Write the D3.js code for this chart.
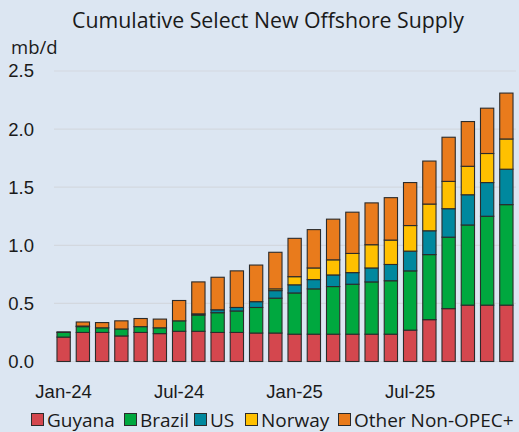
<!DOCTYPE html>
<html>
<head>
<meta charset="utf-8">
<script src="https://cdn.jsdelivr.net/npm/d3@7"></script>
<style>
  body { margin: 0; background: #dce6f2; }
  svg { display: block; font-family: "Open Sans", "Noto Sans", sans-serif; }
</style>
</head>
<body>
<div id="chart"></div>
<script>
const months = ['Jan-24','Feb-24','Mar-24','Apr-24','May-24','Jun-24','Jul-24','Aug-24','Sep-24','Oct-24','Nov-24','Dec-24',
  'Jan-25','Feb-25','Mar-25','Apr-25','May-25','Jun-25','Jul-25','Aug-25','Sep-25','Oct-25','Nov-25','Dec-25'];
const tickLabels = ['Jan-24', 'Jul-24', 'Jan-25', 'Jul-25'];
const seriesNames = ['Guyana', 'Brazil', 'US', 'Norway', 'Other Non-OPEC+'];
const seriesColors = ['#d4474e', '#00a83f', '#00889e', '#ffc000', '#e97b1c'];

const guyana = [0.21,0.25,0.25,0.22,0.25,0.24,0.26,0.26,0.25,0.25,0.245,0.245,
  0.235,0.235,0.235,0.235,0.235,0.235,0.27,0.36,0.455,0.485,0.485,0.485];
const brazil = [0.04,0.05,0.04,0.06,0.05,0.05,0.09,0.14,0.17,0.185,0.22,0.30,
  0.355,0.39,0.41,0.43,0.45,0.46,0.51,0.56,0.615,0.69,0.765,0.865];
const us = [0.005,0.005,0,0,0,0,0,0.01,0.025,0.03,0.05,0.065,
  0.07,0.08,0.10,0.10,0.12,0.14,0.17,0.205,0.245,0.26,0.29,0.305];
const norway = [0,0,0,0,0,0,0,0,0,0,0,0.015,
  0.07,0.10,0.13,0.165,0.20,0.21,0.22,0.23,0.235,0.245,0.25,0.26];
const other = [0,0.035,0.045,0.07,0.07,0.075,0.175,0.275,0.28,0.315,0.315,0.315,
  0.33,0.33,0.35,0.355,0.36,0.365,0.37,0.37,0.38,0.385,0.39,0.395];
const yTicks = [0, 0.5, 1.0, 1.5, 2.0, 2.5];

const seriesValues = [guyana, brazil, us, norway, other];
const width = 519, height = 432;

const rows = months.map((m, i) => {
  const row = { month: m };
  seriesNames.forEach((s, k) => { row[s] = seriesValues[k][i]; });
  return row;
});

const svg = d3.select('#chart').append('svg')
  .attr('width', width)
  .attr('height', height);

const x = d3.scaleBand()
  .domain(months)
  .range([54, 516])
  .paddingInner(0.31)
  .paddingOuter(0.155);

const y = d3.scaleLinear()
  .domain([0, 2.5])
  .range([361.5, 71]);

// gridlines
svg.append('g')
  .selectAll('line')
  .data(yTicks)
  .join('line')
  .attr('x1', 54)
  .attr('x2', 516)
  .attr('y1', d => y(d))
  .attr('y2', d => y(d))
  .style('stroke', '#d3d8df')
  .style('stroke-width', 1.2);

// y axis labels
const yAxis = svg.append('g')
  .attr('transform', 'translate(34,0)')
  .call(d3.axisLeft(y).tickValues(yTicks).tickFormat(d3.format('.1f')).tickSize(0).tickPadding(0));
yAxis.select('.domain').remove();
yAxis.selectAll('text')
  .style('font-size', '18.5px')
  .style('fill', '#1a1a1a')
  .attr('dy', '0.32em');

svg.append('text')
  .attr('x', 11)
  .attr('y', 54)
  .style('font-size', '18.5px')
  .style('fill', '#1a1a1a')
  .text('mb/d');

// x axis labels
const xAxis = svg.append('g')
  .attr('transform', 'translate(0,385)')
  .call(d3.axisBottom(x).tickValues(tickLabels).tickSize(0).tickPadding(0));
xAxis.select('.domain').remove();
xAxis.selectAll('text')
  .style('font-size', '18.5px')
  .style('fill', '#1a1a1a');

// stacked bars
const stacked = d3.stack().keys(seriesNames)(rows);

svg.append('g')
  .selectAll('g')
  .data(stacked)
  .join('g')
  .style('fill', (d, i) => seriesColors[i])
  .selectAll('rect')
  .data(d => d.filter(p => p[1] - p[0] > 0))
  .join('rect')
  .attr('x', d => x(d.data.month))
  .attr('width', x.bandwidth())
  .attr('y', d => y(d[1]))
  .attr('height', d => y(d[0]) - y(d[1]))
  .style('stroke', '#2b2b2b')
  .style('stroke-width', 1.1);

// title
svg.append('text')
  .attr('x', 268)
  .attr('y', 28)
  .attr('text-anchor', 'middle')
  .style('font-size', '21.3px')
  .style('fill', '#1a1a1a')
  .text('Cumulative Select New Offshore Supply');

// legend
const legendX = [31, 124, 194, 245, 338];
const legend = svg.append('g')
  .selectAll('g')
  .data(seriesNames)
  .join('g')
  .attr('transform', (d, i) => `translate(${legendX[i]},420)`);

legend.append('rect')
  .attr('x', 0.5)
  .attr('y', -6.5)
  .attr('width', 12)
  .attr('height', 12)
  .style('fill', (d, i) => seriesColors[i])
  .style('stroke', '#2b2b2b')
  .style('stroke-width', 1);

legend.append('text')
  .attr('x', 16)
  .attr('y', 0)
  .attr('dy', '0.35em')
  .style('font-size', '19px')
  .style('fill', '#1a1a1a')
  .text(d => d);
</script>
</body>
</html>
